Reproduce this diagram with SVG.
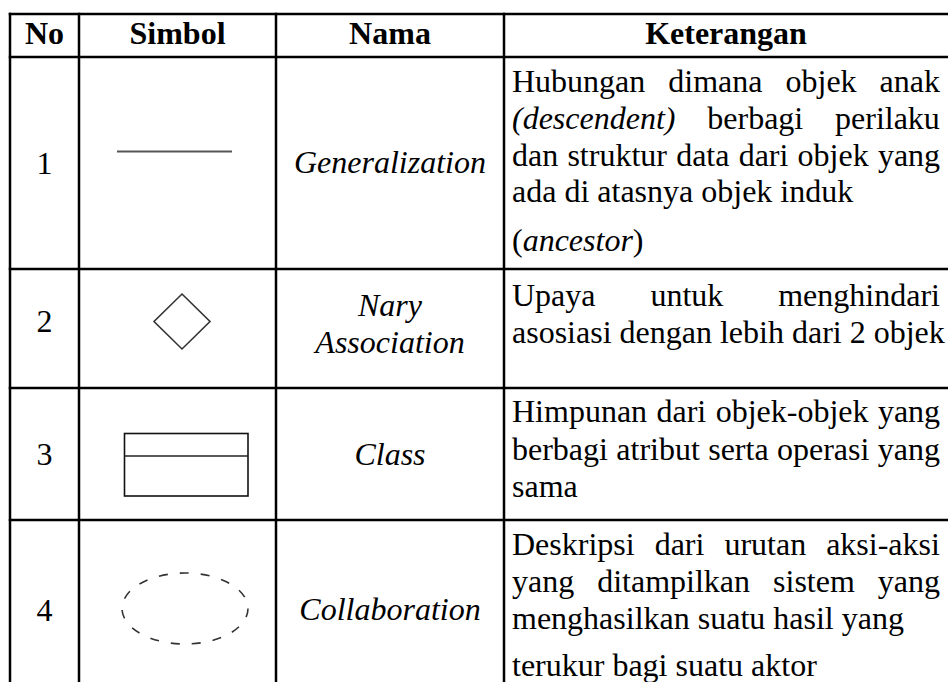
<svg xmlns="http://www.w3.org/2000/svg" width="948" height="682" viewBox="0 0 948 682">
  <style>
    .t { font-size: 32px; fill: #000; }
    .b { font-weight: bold; }
    .i { font-style: italic; }
    .c { text-anchor: middle; }
    .grid line { stroke: #000; stroke-width: 2.5; }
    .sym { fill: none; stroke: #333; stroke-width: 1.6; }
  </style>
  <rect width="948" height="682" fill="#fff"/>

  <!-- table rules -->
  <g id="grid" class="grid">
    <line x1="8.75" y1="14" x2="948" y2="14"/>
    <line x1="8.75" y1="57" x2="948" y2="57"/>
    <line x1="8.75" y1="269" x2="948" y2="269"/>
    <line x1="8.75" y1="388" x2="948" y2="388"/>
    <line x1="8.75" y1="520" x2="948" y2="520"/>
    <line x1="10" y1="12.75" x2="10" y2="682"/>
    <line x1="79" y1="12.75" x2="79" y2="682"/>
    <line x1="276" y1="12.75" x2="276" y2="682"/>
    <line x1="504" y1="12.75" x2="504" y2="682"/>
  </g>

  <g font-family="Liberation Serif, Times New Roman, serif">
  <!-- header row -->
  <g id="header" class="t b c">
    <text x="44.5" y="44">No</text>
    <text x="177.5" y="44">Simbol</text>
    <text x="390" y="44">Nama</text>
    <text x="726" y="44">Keterangan</text>
  </g>

  <!-- 1: Generalization -->
  <g id="row-generalization">
    <text class="t c" x="44.5" y="174">1</text>
    <line x1="117" y1="151.5" x2="232" y2="151.5" stroke="#555" stroke-width="2.2"/>
    <text class="t i c" x="390" y="173">Generalization</text>
    <text class="t" x="512" y="92" style="word-spacing:15px">Hubungan dimana objek anak</text>
    <text class="t" x="512" y="128.8" style="word-spacing:23.8px"><tspan class="i">(descendent)</tspan> berbagi perilaku</text>
    <text class="t" x="512" y="165.6" style="word-spacing:1.2px">dan struktur data dari objek yang</text>
    <text class="t" x="512" y="202.4">ada di atasnya objek induk</text>
    <text class="t" x="512" y="250.5">(<tspan class="i">ancestor</tspan>)</text>
  </g>

  <!-- 2: Nary Association -->
  <g id="row-nary-association">
    <text class="t c" x="44.5" y="332">2</text>
    <polygon class="sym" points="182,294 210,321.5 182,349 154,321.5"/>
    <text class="t i c" x="390" y="316">Nary</text>
    <text class="t i c" x="390" y="352.5">Association</text>
    <text class="t" x="512" y="306" style="word-spacing:46.9px">Upaya untuk menghindari</text>
    <text class="t" x="512" y="342.8">asosiasi dengan lebih dari 2 objek</text>
  </g>

  <!-- 3: Class -->
  <g id="row-class">
    <text class="t c" x="44.5" y="465">3</text>
    <rect x="124.5" y="433.5" width="123.5" height="62.5" fill="none" stroke="#111" stroke-width="1.6"/>
    <line x1="124.5" y1="456" x2="248" y2="456" stroke="#222" stroke-width="1.6"/>
    <text class="t i c" x="390" y="465">Class</text>
    <text class="t" x="512" y="422" style="word-spacing:1.4px">Himpunan dari objek-objek yang</text>
    <text class="t" x="512" y="459.5" style="word-spacing:0.35px">berbagi atribut serta operasi yang</text>
    <text class="t" x="512" y="497">sama</text>
  </g>

  <!-- 4: Collaboration -->
  <g id="row-collaboration">
    <text class="t c" x="44.5" y="621">4</text>
    <ellipse class="sym" cx="185" cy="608.5" rx="63" ry="35.5" stroke-dasharray="9 12"/>
    <text class="t i c" x="390" y="620">Collaboration</text>
    <text class="t" x="512" y="555" style="word-spacing:12px">Deskripsi dari urutan aksi-aksi</text>
    <text class="t" x="512" y="591.8" style="word-spacing:15px">yang ditampilkan sistem yang</text>
    <text class="t" x="512" y="628.6">menghasilkan suatu hasil yang</text>
    <text class="t" x="512" y="675.5">terukur bagi suatu aktor</text>
  </g>
  </g>
</svg>
